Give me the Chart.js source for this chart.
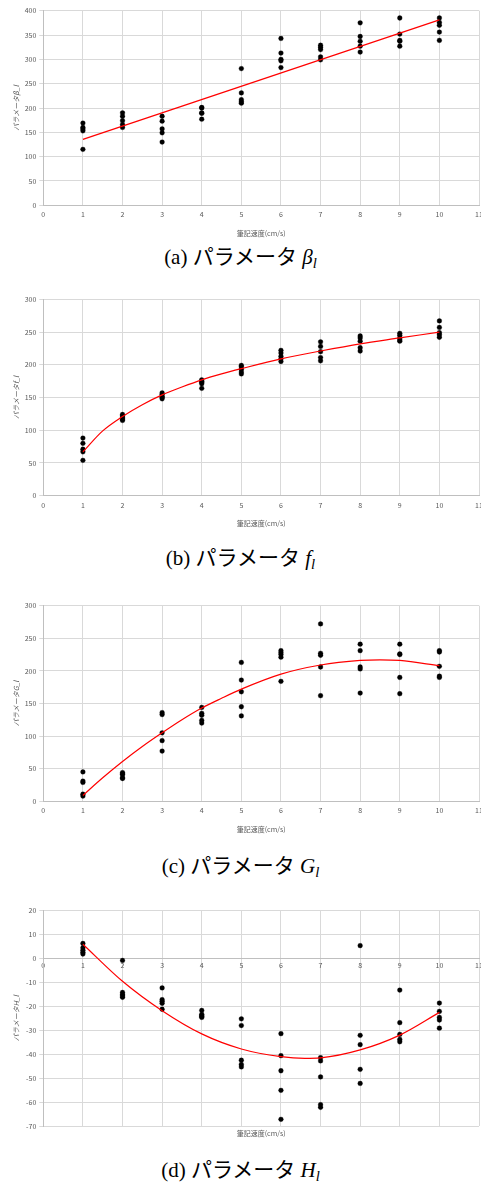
<!DOCTYPE html>
<html><head><meta charset="utf-8">
<script src="https://cdn.jsdelivr.net/npm/chart.js@4/dist/chart.umd.min.js"></script>
<style>
html,body{margin:0;padding:0;background:#fff;overflow:hidden;width:481px;height:1183px;position:relative;}
.wrap{position:absolute;left:0;width:492px;height:245px;}
.cap{position:absolute;left:0;width:481px;text-align:center;font-family:"Liberation Serif","DejaVu Serif","Noto Sans CJK JP",serif;font-size:21px;line-height:22px;color:#000;white-space:nowrap;}
.cap i{font-style:italic;}
.cap sub{font-size:0.7em;vertical-align:-0.25em;line-height:0;}
</style></head><body>
<div class="wrap" style="top:0px"><canvas id="ca"></canvas></div>
<div class="cap" style="top:246px">(a) パラメータ <i>β</i><sub><i>l</i></sub></div>
<div class="wrap" style="top:289px"><canvas id="cb"></canvas></div>
<div class="cap" style="top:547px">(b) パラメータ <i>f</i><sub><i>l</i></sub></div>
<div class="wrap" style="top:595px"><canvas id="cc"></canvas></div>
<div class="cap" style="top:855px">(c) パラメータ <i>G</i><sub><i>l</i></sub></div>
<div class="wrap" style="top:900px"><canvas id="cd"></canvas></div>
<div class="cap" style="top:1159px">(d) パラメータ <i>H</i><sub><i>l</i></sub></div>
<script>
const xCats = [1,2,3,4,5,6,7,8,9,10];
const betaVals = [[169,160,157,153,115],[190,183,174,166,160],[183,173,157,149,130],[201,200,190,189,177],[281,231,217,213,210],[343,313,300,297,283],[329,325,320,305,299],[375,347,337,327,315],[385,352,339,337,327],[385,376,370,356,339]];
const fVals = [[88,80,71,67,54],[124,122,119,117,115],[157,155,152,150,148],[177,175,173,171,164],[199,197,193,189,186],[222,218,213,209,205],[235,228,220,211,206],[244,241,236,226,221],[248,245,241,238,236],[267,257,249,246,242]];
const gVals = [[45,31,29,11,8],[44,42,41,36,35],[136,133,105,93,77],[144,135,132,124,120],[213,186,168,145,131],[231,228,225,221,184],[272,227,224,206,162],[241,231,206,203,166],[241,226,225,190,165],[231,229,207,192,190]];
const hVals = [[6.3,4.5,3.5,2.6,1.9],[-0.8,-14.2,-15,-15.6,-16.2],[-12.3,-17.2,-17.9,-18.7,-21.2],[-21.7,-23.3,-23.9,-24.2,-24.6],[-25.2,-28,-42.5,-44.3,-45.3],[-31.4,-40.6,-46.9,-55.1,-67.2],[-41.4,-42.8,-49.5,-61.1,-62.2],[5.4,-32.1,-36,-46.3,-52.2],[-13.2,-26.8,-31.7,-33.8,-34.8],[-18.6,-22.1,-24.6,-25.7,-29.1]];

const betaTrendX = [1,10];
const betaTrendY = [135.6,381];
const fTrendX = [1,1.5,2,2.5,3,3.5,4,4.5,5,6,7,8,9,10];
const fTrendY = [67,99,121,139,154,166,177,186,194,209,221,232,241,250];
const gTrendX = [1,1.5,2,2.5,3,3.5,4,4.5,5,6,7,8,8.5,9,10];
const gTrendY = [9,36,61,84,105,125,143,158,172,195,209,216,217,216,208];
const hTrendX = [1,2,3,4,5,6,6.6,7,8,9,10];
const hTrendY = [6,-9.5,-21.8,-31.5,-37.8,-41,-41.7,-41.5,-38.2,-32,-22.5];

const xTitle = '筆記速度(cm/s)';
const FONT = '"Noto Sans CJK JP","Noto Sans",sans-serif';
const GRAY = '#595959';
const GRID = '#d9d9d9';
const AXIS = '#bfbfbf';

function makeChart(id, vals, tx, ty, yMin, yMax, yStep, yTitle, pad, centerAxis) {
  const pts = [];
  xCats.forEach((x, i) => vals[i].forEach(v => pts.push({x: x, y: v})));
  const trend = tx.map((x, i) => ({x: x, y: ty[i]}));
  const xScale = {
    type: 'linear', min: 0, max: 11,
    ticks: {stepSize: 1, color: GRAY, font: {family: FONT, size: 7}, padding: 5, maxRotation: 0, autoSkip: false},
    grid: {color: GRID, lineWidth: 1, drawTicks: false},
    border: {color: AXIS, width: 1}
  };
  if (centerAxis) {
    xScale.position = {y: 0};
    xScale.ticks.padding = 3;
  } else {
    xScale.title = {display: true, text: xTitle, color: GRAY, font: {family: FONT, size: 7}, padding: {top: 5, bottom: 2}};
  }
  const plugins = {legend: {display: false}, tooltip: {enabled: false}};
  if (centerAxis) {
    plugins.title = {display: true, position: 'bottom', fullSize: false, text: xTitle, color: GRAY, font: {family: FONT, size: 7, weight: 'normal'}, padding: {top: 3, bottom: 0}};
  }
  return new Chart(document.getElementById(id), {
    type: 'scatter',
    data: {datasets: [
      {data: trend, showLine: true, borderColor: '#ff0000', borderWidth: 1.2, pointRadius: 0, fill: false, cubicInterpolationMode: 'monotone'},
      {data: pts, pointRadius: 2.4, pointBackgroundColor: '#000', pointBorderColor: '#000', pointBorderWidth: 0.3}
    ]},
    options: {
      responsive: true, maintainAspectRatio: false, animation: false, events: [],
      layout: {padding: pad},
      plugins: plugins,
      scales: {
        x: xScale,
        y: {
          type: 'linear', min: yMin, max: yMax,
          afterFit: (s) => { s.width = 37; },
          ticks: {stepSize: yStep, color: GRAY, font: {family: FONT, size: 7}, padding: 3},
          grid: {color: GRID, lineWidth: 1, drawTicks: true, tickLength: 4},
          border: {color: AXIS, width: 1},
          title: {display: true, text: yTitle, color: GRAY, font: {family: FONT, size: 7, style: 'italic'}, padding: {top: 6, bottom: 0}}
        }
      }
    }
  });
}

makeChart('ca', betaVals, betaTrendX, betaTrendY, 0, 400, 50, 'パラメータβ_l', {top: 10.7, left: 6.3, right: 13, bottom: 5.9}, false);
makeChart('cb', fVals, fTrendX, fTrendY, 0, 300, 50, 'パラメータf_l', {top: 10.3, left: 6.3, right: 13, bottom: 4.5}, false);
makeChart('cc', gVals, gTrendX, gTrendY, 0, 300, 50, 'パラメータG_l', {top: 10.7, left: 6.3, right: 13, bottom: 4.9}, false);
makeChart('cd', hVals, hTrendX, hTrendY, -70, 20, 10, 'パラメータH_l', {top: 10.7, left: 6.3, right: 13, bottom: 7.6}, true);
</script>
</body></html>
